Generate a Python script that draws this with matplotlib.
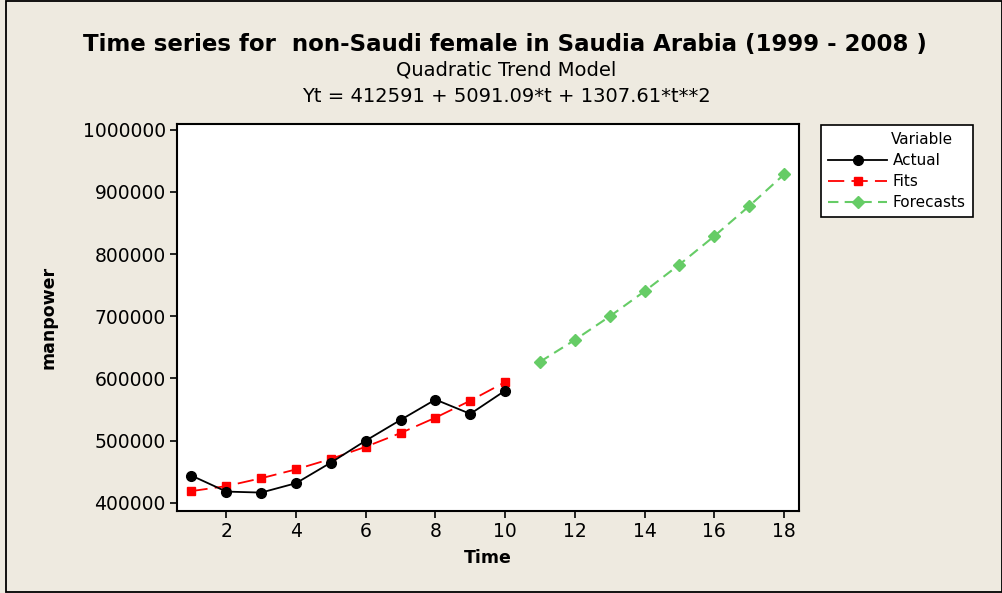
import matplotlib
matplotlib.use("Agg")
import matplotlib.pyplot as plt
from matplotlib.patches import Rectangle

# Data
t_actual = [1, 2, 3, 4, 5, 6, 7, 8, 9, 10]
actual = [443900, 418200, 416600, 431700, 464800, 500100, 533400, 566100, 543100, 580500]
t_fits = [1, 2, 3, 4, 5, 6, 7, 8, 9, 10]
fits = [418990, 427004, 439633, 453877, 470737, 490212, 512302, 537007, 564327, 594263]
t_fc = [11, 12, 13, 14, 15, 16, 17, 18]
forecasts = [626814, 661980, 699761, 740158, 783170, 828797, 877039, 927896]
xticks = [2, 4, 6, 8, 10, 12, 14, 16, 18]
yticks = [400000, 500000, 600000, 700000, 800000, 900000, 1000000]

W, H = 1003, 593
bg = "#EEEAE0"
plt.rcParams['font.family'] = ['DejaVu Sans']
fig = plt.figure(figsize=(W / 100, H / 100), dpi=100, facecolor=bg)

# outer frame
fig.patches.append(Rectangle((6 / W, 1 / H), (1002 - 6) / W, (592 - 1) / H, transform=fig.transFigure,
                             fill=False, edgecolor="black", linewidth=1.3))

l, r, t, b = 177, 799, 124, 511
ax = fig.add_axes([l / W, 1 - b / H, (r - l) / W, (b - t) / H])
ax.set_facecolor("white")

ax.plot(t_actual, actual, color="black", lw=1.3, marker="o", ms=7, label="Actual", zorder=3)
ax.plot(t_fits, fits, color="#FF0000", lw=1.3, ls=(0, (9, 4)), marker="s", ms=6, label="Fits", zorder=2)
ax.plot(t_fc, forecasts, color="#66CC66", lw=1.5, ls=(0, (5, 3)), marker="D", ms=6.5, label="Forecasts", zorder=2)

ax.set_xlim(0.585, 18.43)
ax.set_ylim(387000, 1009000)
ax.set_xticks(xticks)
ax.set_yticks(yticks)
ax.set_yticklabels([str(v) for v in yticks])
ax.tick_params(labelsize=13.5, length=5, width=1.2, direction="out", colors="black", pad=3)
for s in ax.spines.values():
    s.set_linewidth(1.5)

ax.set_xlabel("Time", fontsize=12.5, fontweight="bold", labelpad=6)
ax.set_ylabel("manpower", fontsize=12.5, fontweight="bold", labelpad=18)

fig.text(505 / W, 1 - 45 / H, "Time series for  non-Saudi female in Saudia Arabia (1999 - 2008 )",
         ha="center", va="center", fontsize=16.5, fontweight="bold")
fig.text(506 / W, 1 - 70 / H, "Quadratic Trend Model", ha="center", va="center", fontsize=14)
fig.text(506 / W, 1 - 96 / H, "Yt = 412591 + 5091.09*t + 1307.61*t**2", ha="center", va="center", fontsize=14)

leg = fig.legend(loc="upper left", bbox_to_anchor=(821 / W, 1 - 125 / H), title=" ",
                 fontsize=11, title_fontsize=11, frameon=True, fancybox=False, framealpha=1,
                 edgecolor="black", handlelength=3.9, borderpad=0.45, labelspacing=0.4,
                 handletextpad=0.35, borderaxespad=0)
leg.get_frame().set_linewidth(1.2)
leg.get_frame().set_facecolor("white")
leg.set_zorder(5)
fig.text(891 / W, 1 - 139 / H, "Variable", ha="left", va="center", fontsize=11, zorder=10)

fig.savefig("out.png", dpi=100, facecolor=bg)
